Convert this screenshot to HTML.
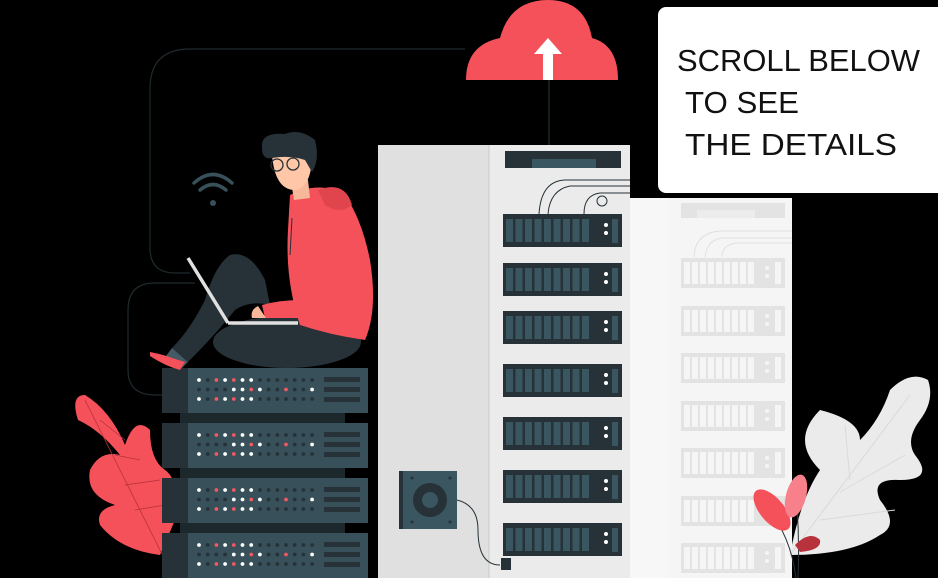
<!DOCTYPE html>
<html><head><meta charset="utf-8"><style>
html,body{margin:0;padding:0;background:#000;}
svg{display:block}
</style></head><body>
<svg width="938" height="578" viewBox="0 0 938 578" xmlns="http://www.w3.org/2000/svg">
<defs>
<g id="tu">
<rect x="0" y="0" width="119" height="33" fill="#263238"/>
<g fill="#3a5660">
<rect x="3" y="5" width="7" height="23"/><rect x="12.5" y="5" width="7" height="23"/><rect x="22" y="5" width="7" height="23"/><rect x="31.5" y="5" width="7" height="23"/><rect x="41" y="5" width="7" height="23"/><rect x="50.5" y="5" width="7" height="23"/><rect x="60" y="5" width="7" height="23"/><rect x="69.5" y="5" width="7" height="23"/><rect x="79" y="5" width="7" height="23"/>
<rect x="109" y="5" width="6" height="24"/>
</g>
<circle cx="103" cy="11" r="2" fill="#fff"/><circle cx="103" cy="19" r="2" fill="#fff"/>
</g>
<g id="lu">
<rect x="0" y="0" width="104" height="30" fill="#e3e3e3"/>
<g fill="#f5f5f5">
<rect x="3" y="4" width="6" height="22"/><rect x="11" y="4" width="6" height="22"/><rect x="19" y="4" width="6" height="22"/><rect x="27" y="4" width="6" height="22"/><rect x="35" y="4" width="6" height="22"/><rect x="43" y="4" width="6" height="22"/><rect x="51" y="4" width="6" height="22"/><rect x="59" y="4" width="6" height="22"/><rect x="67" y="4" width="6" height="22"/>
<rect x="94" y="4" width="6" height="22"/>
</g>
<circle cx="86" cy="10" r="2" fill="#f5f5f5"/><circle cx="86" cy="18" r="2" fill="#f5f5f5"/>
</g>
<g id="row">
<circle cx="37" cy="0" r="1.9"/><circle cx="45.7" cy="0" r="1.9"/><circle cx="54.4" cy="0" r="1.9"/><circle cx="63.1" cy="0" r="1.9"/><circle cx="71.8" cy="0" r="1.9"/><circle cx="80.5" cy="0" r="1.9"/><circle cx="89.2" cy="0" r="1.9"/><circle cx="97.9" cy="0" r="1.9"/><circle cx="106.6" cy="0" r="1.9"/><circle cx="115.3" cy="0" r="1.9"/><circle cx="124" cy="0" r="1.9"/><circle cx="132.7" cy="0" r="1.9"/><circle cx="141.4" cy="0" r="1.9"/><circle cx="150.1" cy="0" r="1.9"/>
</g>
<g id="su">
<rect x="0" y="0" width="26" height="45" fill="#263238"/>
<rect x="26" y="0" width="180" height="45" fill="#37505a"/>
<g fill="#263238"><use href="#row" y="12"/><use href="#row" y="21.5"/><use href="#row" y="31"/></g>
<g fill="#fff"><circle cx="37" cy="12" r="1.9"/><circle cx="63.1" cy="12" r="1.9"/><circle cx="80.5" cy="12" r="1.9"/><circle cx="89.2" cy="12" r="1.9"/><circle cx="71.8" cy="21.5" r="1.9"/><circle cx="80.5" cy="21.5" r="1.9"/><circle cx="97.9" cy="21.5" r="1.9"/><circle cx="150.1" cy="21.5" r="1.9"/><circle cx="37" cy="31" r="1.9"/><circle cx="63.1" cy="31" r="1.9"/><circle cx="80.5" cy="31" r="1.9"/><circle cx="89.2" cy="31" r="1.9"/></g>
<g fill="#f05a62"><circle cx="54.4" cy="12" r="1.9"/><circle cx="71.8" cy="12" r="1.9"/><circle cx="89.2" cy="21.5" r="1.9"/><circle cx="124" cy="21.5" r="1.9"/><circle cx="54.4" cy="31" r="1.9"/><circle cx="71.8" cy="31" r="1.9"/></g>
<g fill="#263238"><rect x="162" y="9" width="36" height="5"/><rect x="162" y="19" width="36" height="5"/><rect x="162" y="29" width="36" height="5"/></g>
</g>
</defs>

<!-- background lines -->
<path d="M465 49 H190 Q150 49 150 89 V248 Q150 273 175 273 H190" fill="none" stroke="#1f2a2e" stroke-width="1.2"/>
<path d="M195 283 H155 Q128 283 128 310 V370 Q128 395 155 395 H162" fill="none" stroke="#1f2a2e" stroke-width="1.2"/>

<!-- cloud -->
<path d="M466 80 Q466 45 500 38 Q510 0 548 0 Q585 0 592 38 Q618 45 618 80 Z" fill="#f5515a"/>
<path d="M548 38 L562 54 L553 54 L553 80 L543 80 L543 54 L534 54 Z" fill="#fff"/>
<line x1="549" y1="80" x2="549" y2="145" stroke="#2a3a40" stroke-width="1"/>

<!-- right rack (light) -->
<rect x="630" y="198" width="162" height="380" fill="#f5f5f5"/>
<rect x="630" y="198" width="38" height="380" fill="#f7f7f7"/>
<rect x="681" y="203" width="104" height="15" fill="#e3e3e3"/>
<rect x="697" y="210" width="58" height="8" fill="#ececec"/>
<path d="M694 257 Q695 233 720 231 H792 M705 257 Q707 240 722 238 H792 M722 257 Q722 243 740 243 H792" fill="none" stroke="#e0e0e0"/>
<use href="#lu" x="681" y="258"/><use href="#lu" x="681" y="306"/><use href="#lu" x="681" y="353"/><use href="#lu" x="681" y="401"/><use href="#lu" x="681" y="448"/><use href="#lu" x="681" y="496"/><use href="#lu" x="681" y="543"/>

<!-- right leaf -->
<path d="M790 555 Q800 500 820 470 Q790 440 820 410 Q860 420 860 440 Q880 420 890 390 Q910 370 928 380 Q935 400 920 420 Q905 440 915 455 Q935 480 900 480 Q870 478 880 500 Q900 525 880 535 Q850 555 790 555 Z" fill="#ebebeb"/>
<path d="M790 555 L910 395 M840 492 L905 455 M820 520 L895 510 M850 480 L845 425" stroke="#dadada" fill="none"/>

<!-- tall rack -->
<rect x="378" y="145" width="252" height="433" fill="#ebebeb"/>
<rect x="378" y="145" width="111" height="433" fill="#e0e0e0"/>
<line x1="489" y1="145" x2="489" y2="578" stroke="#c9c9c9"/>
<rect x="505" y="151" width="116" height="17" fill="#263238"/>
<rect x="532" y="159" width="64" height="9" fill="#3a5660"/>
<path d="M539 214 Q541 181 565 180 H630 M548 214 Q550 190 570 186 H630 M584 214 Q584 195 600 193 H630" fill="none" stroke="#263238" stroke-width="1"/>
<circle cx="602" cy="201" r="5" fill="none" stroke="#263238"/>
<use href="#tu" x="503" y="214"/><use href="#tu" x="503" y="263"/><use href="#tu" x="503" y="311"/><use href="#tu" x="503" y="364"/><use href="#tu" x="503" y="417"/><use href="#tu" x="503" y="470"/><use href="#tu" x="503" y="523"/>
<!-- fan -->
<rect x="399" y="471" width="58" height="58" fill="#3a5660"/>
<rect x="399" y="471" width="4" height="58" fill="#263238"/>
<circle cx="430" cy="500" r="17" fill="#263238"/><circle cx="430" cy="500" r="8" fill="#3a5660"/>
<g fill="#263238"><circle cx="412" cy="478" r="1.5"/><circle cx="450" cy="478" r="1.5"/><circle cx="412" cy="522" r="1.5"/><circle cx="450" cy="522" r="1.5"/></g>
<path d="M457 500 Q478 505 478 530 Q478 565 500 565" fill="none" stroke="#263238"/>
<rect x="501" y="558" width="10" height="12" fill="#263238"/>

<!-- small plants right -->
<path d="M796 578 Q790 530 760 500" stroke="#263238" fill="none"/>
<path d="M798 578 Q800 530 795 485" stroke="#263238" fill="none"/>
<ellipse cx="772" cy="510" rx="12" ry="25" transform="rotate(-40 772 510)" fill="#f5515a"/>
<ellipse cx="796" cy="496" rx="10" ry="22" transform="rotate(15 796 496)" fill="#f7808a"/>
<path d="M795 545 Q810 530 820 540 Q822 550 800 552 Z" fill="#b8323b"/>

<!-- left red leaf -->
<path d="M160 555 Q120 550 100 525 Q95 510 115 505 Q85 495 90 470 Q100 450 120 455 Q100 430 78 420 Q70 395 85 395 Q110 410 125 445 Q135 415 150 430 Q150 460 165 470 Q180 480 175 520 Z" fill="#f5515a"/>
<path d="M85 400 L165 560 M100 420 L125 440 M115 455 L140 460 M125 485 L160 480 M135 510 L165 505" stroke="#b8323b" stroke-width="0.8" fill="none"/>

<!-- server stack -->
<rect x="180" y="368" width="165" height="210" fill="#1d282c"/>
<use href="#su" x="162" y="368"/><use href="#su" x="162" y="423"/><use href="#su" x="162" y="478"/><use href="#su" x="162" y="533"/>

<!-- wifi -->
<g fill="none" stroke="#37505a" stroke-width="3.5" stroke-linecap="round">
<path d="M194 183 Q213 166 232 183"/><path d="M200 190 Q213 179 226 190"/>
</g>
<circle cx="213" cy="203" r="3" fill="#37505a"/>

<!-- person -->
<ellipse cx="287" cy="342" rx="74" ry="26" fill="#263238"/>
<path d="M265 280 Q250 250 230 255 Q215 265 205 300 Q190 330 172 348 L188 362 Q215 335 235 310 Q250 300 270 305 Z" fill="#263238"/>
<path d="M172 348 L188 362 L182 368 L166 356 Z" fill="#455a64"/>
<path d="M150 352 Q165 355 172 358 L185 362 L180 370 Q165 366 150 356 Z" fill="#f5515a"/>
<path d="M290 195 Q320 180 345 195 Q362 220 370 260 Q378 310 365 340 Q330 335 300 325 Q285 280 288 230 Z" fill="#f5515a"/>
<path d="M318 190 Q345 180 352 205 Q340 215 325 205 Z" fill="#e0454e"/>
<path d="M300 300 Q280 300 262 305 L265 318 Q290 318 320 318 Q330 310 325 300 Z" fill="#f5515a"/>
<path d="M258 306 Q250 310 252 318 L266 318 Z" fill="#f7b89a"/>
<path d="M292 218 L290 255" stroke="#263238" fill="none"/>
<path d="M290 175 L294 200 L310 198 L308 180 Z" fill="#f7b89a"/>
<path d="M272 155 Q275 190 295 190 Q310 188 312 160 Q305 148 285 148 Z" fill="#ffc7a8"/>
<path d="M262 148 Q260 132 285 134 Q300 128 315 140 Q320 160 312 172 L305 160 Q290 155 272 158 Q262 160 262 148 Z" fill="#263238"/>
<circle cx="277" cy="165" r="6" fill="none" stroke="#263238" stroke-width="1.3"/>
<circle cx="293" cy="164" r="6" fill="none" stroke="#263238" stroke-width="1.3"/>
<line x1="188" y1="258" x2="228" y2="323" stroke="#e0e0e0" stroke-width="3.5"/>
<line x1="228" y1="323" x2="298" y2="323" stroke="#e0e0e0" stroke-width="3.5"/>

<!-- text box -->
<rect x="658" y="7" width="290" height="186" rx="8" fill="#fff"/>
<g font-family="'Liberation Sans', sans-serif" font-size="31" fill="#111" font-weight="normal">
<text x="677" y="71" textLength="243" lengthAdjust="spacingAndGlyphs">SCROLL BELOW</text>
<text x="685" y="113" textLength="114" lengthAdjust="spacingAndGlyphs">TO SEE</text>
<text x="685" y="155" textLength="212" lengthAdjust="spacingAndGlyphs">THE DETAILS</text>
</g>
</svg>
</body></html>
